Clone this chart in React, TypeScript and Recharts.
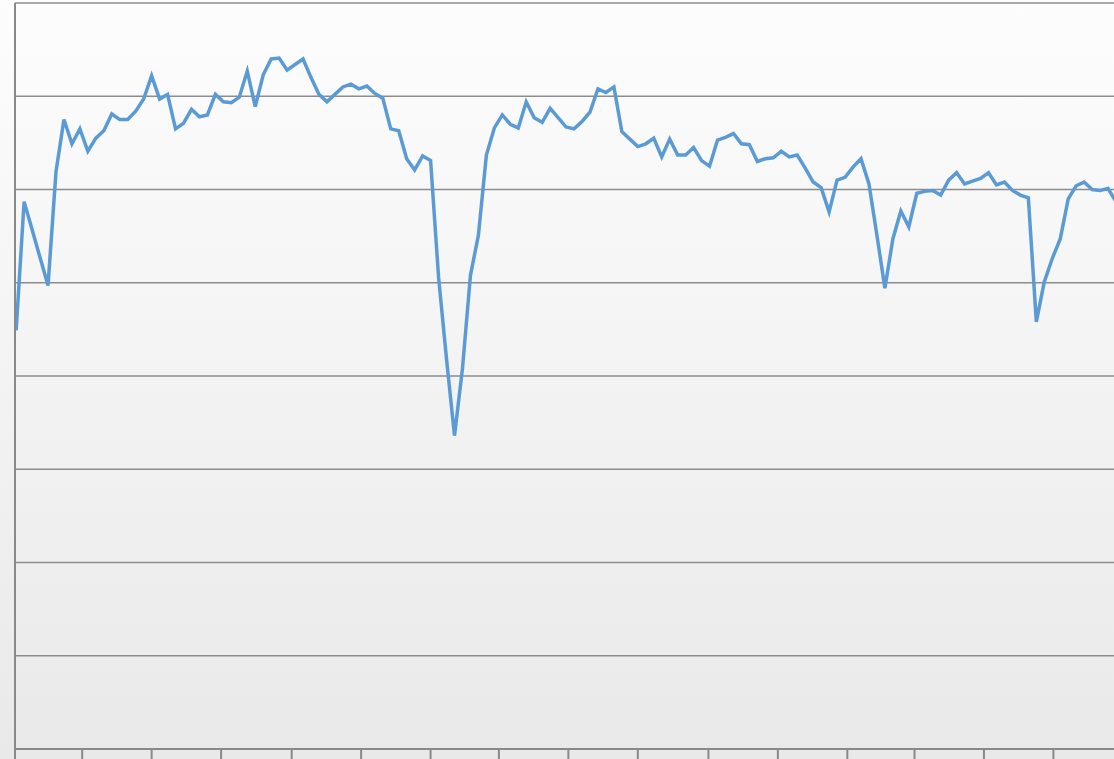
import { LineChart, Line, XAxis, YAxis, CartesianGrid } from 'recharts';

// weekly series, first week starting 2019-01-02
const firstWeek = '2019-01-02';
const weeklyValues = [
  44.9, 58.7, 55.7, 52.7, 49.7, 61.9, 67.5, 64.9, 66.5, 64.1,
  65.5, 66.3, 68.1, 67.5, 67.5, 68.4, 69.7, 72.2, 69.7, 70.2,
  66.5, 67.1, 68.6, 67.8, 68.0, 70.2, 69.4, 69.3, 69.9, 72.7,
  68.9, 72.3, 74.0, 74.1, 72.8, 73.4, 74.0, 72.0, 70.2, 69.4,
  70.2, 71.0, 71.3, 70.8, 71.1, 70.3, 69.8, 66.5, 66.3, 63.3,
  62.1, 63.6, 63.1, 50.6, 41.8, 33.6, 40.8, 50.8, 55.1, 63.7,
  66.6, 68.0, 67.0, 66.6, 69.4, 67.7, 67.2, 68.7, 67.7, 66.7,
  66.5, 67.3, 68.3, 70.8, 70.4, 71.0, 66.2, 65.4, 64.6, 64.9,
  65.5, 63.5, 65.4, 63.7, 63.7, 64.5, 63.1, 62.5, 65.3, 65.6,
  66.0, 64.9, 64.8, 63.0, 63.3, 63.4, 64.1, 63.5, 63.7, 62.3,
  60.8, 60.2, 57.6, 61.0, 61.3, 62.4, 63.3, 60.6, 55.1, 49.4,
  54.7, 57.7, 56.0, 59.6, 59.8, 59.9, 59.4, 61.0, 61.8, 60.6,
  60.9, 61.2, 61.8, 60.5, 60.8, 59.9, 59.4, 59.1, 45.8, 50.1,
  52.6, 54.7, 59.0, 60.4, 60.8, 60.0, 59.9, 60.1, 58.7,
];

// x axis: tick every two months
const axisStart = '2019-01-01';
const axisEnd = '2021-09-01';
const tickDates = [
  '2019-01-01', '2019-03-01', '2019-05-01', '2019-07-01', '2019-09-01', '2019-11-01',
  '2020-01-01', '2020-03-01', '2020-05-01', '2020-07-01', '2020-09-01', '2020-11-01',
  '2021-01-01', '2021-03-01', '2021-05-01', '2021-07-01', '2021-09-01',
];
const yTicks = [0, 10, 20, 30, 40, 50, 60, 70, 80];

const DAY = 24 * 3600 * 1000;
const toTime = (s: string) => new Date(s + 'T00:00:00Z').getTime();

const data = weeklyValues.map((v, i) => ({
  t: toTime(firstWeek) + i * 7 * DAY,
  value: v,
}));

const hideLabel = () => '';

export default function App() {
  return (
    <div
      style={{
        position: 'fixed',
        top: 0,
        left: 0,
        width: 1114,
        height: 759,
        overflow: 'hidden',
        background: 'linear-gradient(to bottom, #fdfdfd 0%, #e9e9e9 100%)',
      }}
    >
      <LineChart
        width={1124}
        height={781}
        data={data}
        margin={{ top: 3, right: 0, left: 14, bottom: 0 }}
      >
        <CartesianGrid vertical={false} stroke="#8c8c8c" strokeWidth={1.5} />
        <XAxis
          dataKey="t"
          type="number"
          scale="time"
          domain={[toTime(axisStart), toTime(axisEnd)]}
          ticks={tickDates.map(toTime)}
          tickFormatter={hideLabel}
          tickSize={14}
          height={32}
          interval={0}
          axisLine={{ stroke: '#898989', strokeWidth: 2 }}
          tickLine={{ stroke: '#898989', strokeWidth: 2 }}
        />
        <YAxis
          width={1}
          domain={[0, 80]}
          ticks={yTicks}
          interval={0}
          tickFormatter={hideLabel}
          tickLine={false}
          axisLine={{ stroke: '#898989', strokeWidth: 2 }}
        />
        <Line
          type="linear"
          dataKey="value"
          stroke="#5b9bd5"
          strokeWidth={3.5}
          dot={false}
          isAnimationActive={false}
        />
      </LineChart>
    </div>
  );
}
